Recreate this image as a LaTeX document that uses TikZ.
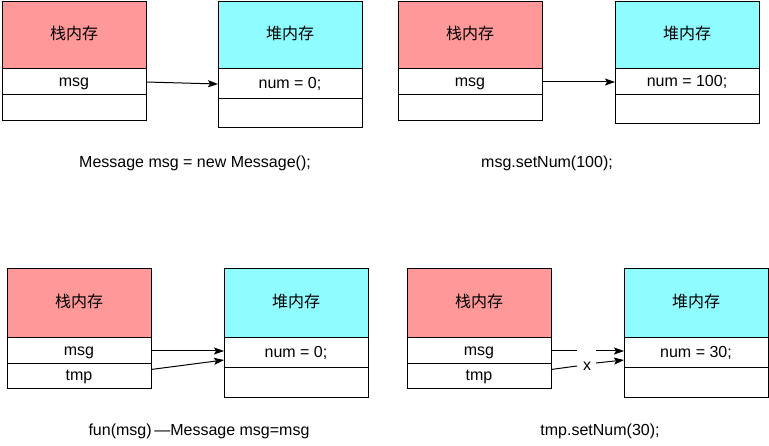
\documentclass[tikz,border=0pt]{standalone}
\usepackage{fontspec}
\setmainfont{Liberation Sans}
\newfontfamily\cjk{Noto Sans CJK SC}
\usepackage{tikz}
\usetikzlibrary{positioning,arrows.meta}

\definecolor{stackred}{HTML}{FF9999}
\definecolor{heapcyan}{HTML}{8FFCFF}
\newcommand\cellfont{\fontsize{16}{19}\selectfont}

\tikzset{
  memcell/.style={draw, line width=1pt, inner sep=0pt, outer sep=0pt,
    minimum width=144pt, minimum height=26pt, text height=12pt,
    text depth=3pt, font=\cellfont},
  stackhead/.style={memcell, fill=stackred, minimum height=67pt,
    anchor=north west, font=\cjk\cellfont},
  heaphead/.style={stackhead, fill=heapcyan},
  ptr/.style={line width=1pt, -{Stealth[length=10pt,width=7pt,inset=2pt]}},
  caption/.style={font=\cellfont}
}

\begin{document}
\begin{tikzpicture}[x=1pt,y=-1pt]
\useasboundingbox (0,0) rectangle (769,446);

% new Message
\node[stackhead] (s1head) at (2,2) {栈内存};
\node[memcell, below=0pt of s1head] (s1msg) {msg};
\node[memcell, below=0pt of s1msg] (s1nil) {};
\node[heaphead] (h1head) at (218,2) {堆内存};
\node[memcell, minimum height=30pt, below=0pt of h1head] (h1num) {num = 0;};
\node[memcell, minimum height=29pt, below=0pt of h1num] (h1nil) {};
\draw[ptr] (s1msg.east) -- (h1num.west);
\node[caption] (c1) at (195,163) {Message msg = new Message();};

% setNum(100)
\node[stackhead] (s2head) at (398,2) {栈内存};
\node[memcell, below=0pt of s2head] (s2msg) {msg};
\node[memcell, below=0pt of s2msg] (s2nil) {};
\node[heaphead] (h2head) at (615,2) {堆内存};
\node[memcell, below=0pt of h2head] (h2num) {num = 100;};
\node[memcell, minimum height=29pt, below=0pt of h2num] (h2nil) {};
\draw[ptr] (s2msg.east) -- (h2num.west);
\node[caption] (c2) at (547,163) {msg.setNum(100);};

% fun(msg)
\node[stackhead, minimum height=69pt] (s3head) at (7,269) {栈内存};
\node[memcell, below=0pt of s3head] (s3msg) {msg};
\node[memcell, minimum height=25pt, below=0pt of s3msg] (s3tmp) {tmp};
\node[heaphead, minimum height=69pt] (h3head) at (224,269) {堆内存};
\node[memcell, minimum height=30pt, below=0pt of h3head] (h3num) {num = 0;};
\node[memcell, minimum height=30pt, below=0pt of h3num] (h3nil) {};
\draw[ptr] (s3msg.east) -- ([yshift=2pt]h3num.west);
\draw[ptr] ([yshift=7pt]s3tmp.east) -- ([yshift=-7pt]h3num.west);
\node[caption] (c3) at (199,431) {fun(msg)\,—Message msg=msg};

% tmp.setNum(30)
\node[stackhead, minimum height=69pt] (s4head) at (407,269) {栈内存};
\node[memcell, below=0pt of s4head] (s4msg) {msg};
\node[memcell, minimum height=25pt, below=0pt of s4msg] (s4tmp) {tmp};
\node[heaphead, minimum height=69pt] (h4head) at (624,269) {堆内存};
\node[memcell, minimum height=30pt, below=0pt of h4head] (h4num) {num = 30;};
\node[memcell, minimum height=30pt, below=0pt of h4num] (h4nil) {};
\coordinate (m4a) at (577,351);
\coordinate (m4b) at (596,351);
\coordinate (t4a) at (577,366);
\coordinate (t4b) at (596,363);
\draw[line width=1pt] (s4msg.east) -- (m4a);
\draw[ptr] (m4b) -- ([yshift=2pt]h4num.west);
\draw[line width=1pt] ([yshift=7pt]s4tmp.east) -- (t4a);
\draw[ptr] (t4b) -- ([yshift=-7pt]h4num.west);
\node[caption] (xmark) at (587,366) {x};
\node[caption] (c4) at (600,431) {tmp.setNum(30);};
\end{tikzpicture}
\end{document}
